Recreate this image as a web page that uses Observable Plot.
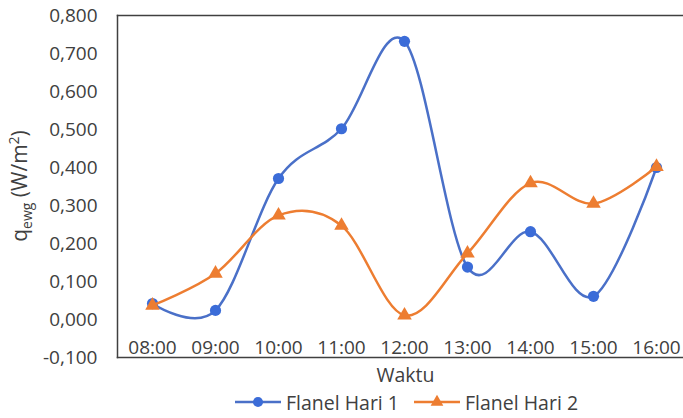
<!DOCTYPE html>
<html>
<head>
<meta charset="utf-8">
<script src="https://cdn.jsdelivr.net/npm/d3@7"></script>
<script src="https://cdn.jsdelivr.net/npm/@observablehq/plot@0.6"></script>
<style>
  html, body { margin: 0; padding: 0; background: #fff; overflow: hidden; }
  #chart { width: 683px; }
  .legend {
    display: flex; align-items: center; justify-content: center; column-gap: 15px;
    height: 24px; margin-left: 130px; margin-right: 0;
    font-family: "Open Sans", sans-serif; font-size: 19.5px; color: #404040;
  }
  .legend .item { display: flex; align-items: center; }
  .legend svg { margin-right: 5px; }
</style>
</head>
<body>
<div id="chart"></div>
<script>
// Hourly readings (Waktu) for the two flannel-fabric days
const times = ["08:00", "09:00", "10:00", "11:00", "12:00", "13:00", "14:00", "15:00", "16:00"];
const hari1 = [0.042, 0.024, 0.371, 0.502, 0.732, 0.138, 0.231, 0.061, 0.400];
const hari2 = [0.037, 0.121, 0.274, 0.247, 0.011, 0.174, 0.359, 0.305, 0.402];
const seriesNames = ["Flanel Hari 1", "Flanel Hari 2"];
const yTicks = [-0.1, 0, 0.1, 0.2, 0.3, 0.4, 0.5, 0.6, 0.7, 0.8];

const blue = "#4a70c8";
const blueDot = "#3b6cd8";
const orange = "#ed7d31";
const ink = "#404040";

const rows1 = times.map((t, i) => ({time: t, value: hari1[i], series: seriesNames[0]}));
const rows2 = times.map((t, i) => ({time: t, value: hari2[i], series: seriesNames[1]}));

// Decimal comma, three places, ASCII hyphen for negatives
const fmt = d => d3.format(".3f")(d).replace(".", ",").replace("\u2212", "-");

const svg = Plot.plot({
  width: 683,
  height: 390,
  marginLeft: 117,
  marginRight: 0,
  marginTop: 15,
  marginBottom: 33,
  style: {fontFamily: "'Open Sans', sans-serif", fontSize: "19px", color: ink, background: "#fff"},
  x: {type: "point", domain: times, range: [148, 659], padding: 0},
  y: {domain: [-0.1, 0.8]},
  marks: [
    Plot.frame({anchor: "top", stroke: ink, strokeWidth: 1.5}),
    Plot.frame({anchor: "left", stroke: ink, strokeWidth: 1.5}),
    Plot.frame({anchor: "bottom", stroke: ink, strokeWidth: 1.5}),
    Plot.axisY({ticks: yTicks, tickSize: 0, tickPadding: 20, tickFormat: fmt, label: null, fill: ink}),
    Plot.axisX({anchor: "bottom", tickSize: 0, tickPadding: 0, dy: -17, label: null, fill: ink}),
    Plot.text(["Waktu"], {frameAnchor: "bottom", dx: 5, dy: 24, fill: ink, fontSize: 19.5}),
    Plot.line(rows1, {x: "time", y: "value", stroke: blue, strokeWidth: 2.5, curve: "cardinal"}),
    Plot.dot(rows1, {x: "time", y: "value", r: 5.6, fill: blueDot, symbol: "circle"}),
    Plot.line(rows2, {x: "time", y: "value", stroke: orange, strokeWidth: 2.5, curve: "cardinal"}),
    Plot.dot(rows2, {x: "time", y: "value", r: 5.4, fill: orange, symbol: "triangle"})
  ]
});

// Y-axis title with subscript and superscript
const yTitle = d3.select(svg).append("text")
  .attr("transform", "translate(27,186) rotate(-90)")
  .attr("text-anchor", "middle")
  .attr("fill", ink)
  .attr("font-family", "'Open Sans', sans-serif")
  .attr("font-size", 21);
yTitle.append("tspan").text("q");
yTitle.append("tspan").attr("font-size", 14).attr("dy", 5).text("ewg");
yTitle.append("tspan").attr("dy", -5).text(" (W/m");
yTitle.append("tspan").attr("font-size", 14).attr("dy", -8).text("2");
yTitle.append("tspan").attr("dy", 8).text(")");

document.getElementById("chart").appendChild(svg);

// Legend below the plot: line + marker swatches
const legend = d3.select("#chart").append("div").attr("class", "legend");
const swatches = [
  {name: seriesNames[0], line: blue, fill: blueDot, symbol: d3.symbolCircle, size: 80},
  {name: seriesNames[1], line: orange, fill: orange, symbol: d3.symbolTriangle, size: 70}
];
for (const s of swatches) {
  const item = legend.append("div").attr("class", "item");
  const sw = item.append("svg").attr("width", 46).attr("height", 16);
  sw.append("line").attr("x1", 0).attr("x2", 46).attr("y1", 8).attr("y2", 8)
    .attr("stroke", s.line).attr("stroke-width", 2.5);
  sw.append("path").attr("transform", "translate(23,8)")
    .attr("d", d3.symbol(s.symbol, s.size)()).attr("fill", s.fill);
  item.append("span").text(s.name);
}
</script>
</body>
</html>
